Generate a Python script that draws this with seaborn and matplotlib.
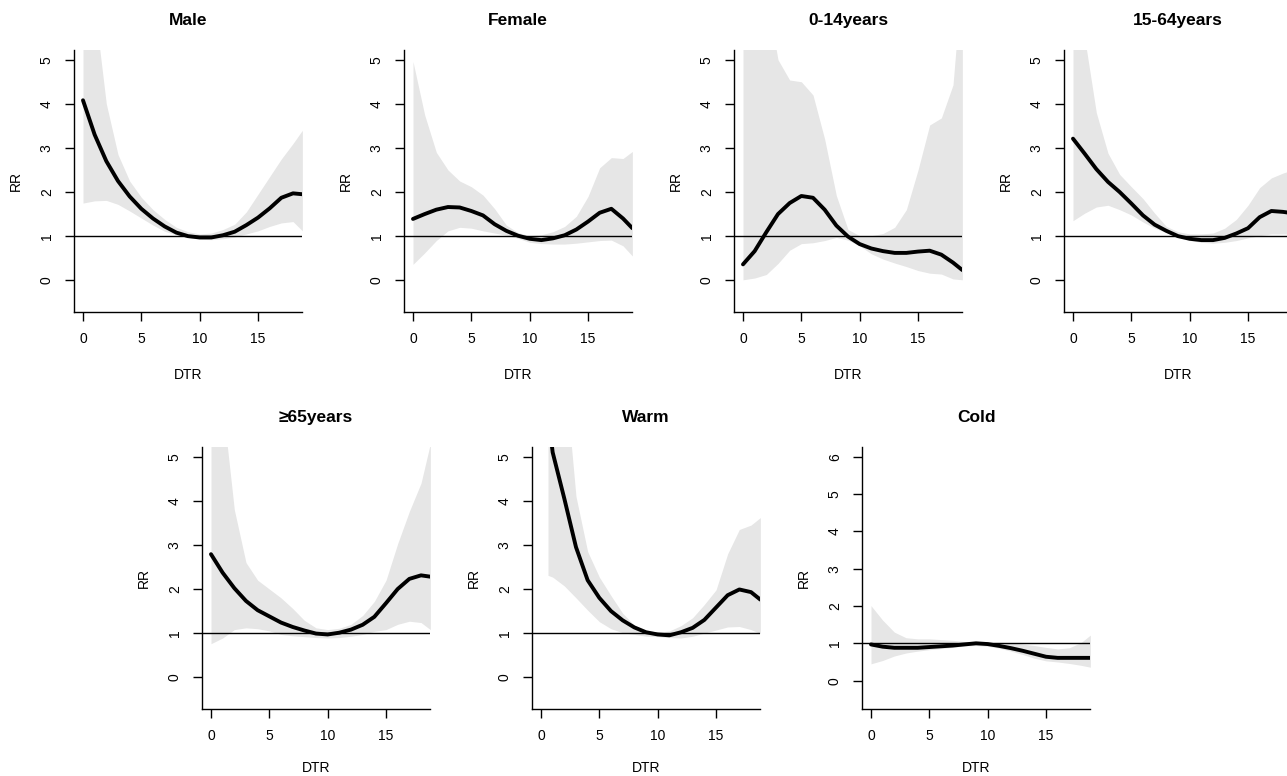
import matplotlib

matplotlib.use("Agg")

import matplotlib.pyplot as plt
import seaborn as sns

# exposure-response values (RR with 95% CI)
DTR = [0, 1, 2, 3, 4, 5, 6, 7, 8, 9, 10, 11, 12, 13, 14, 15, 16, 17, 18, 18.8]
WARM_DTR = [0.6, 1, 2, 3, 4, 5, 6, 7, 8, 9, 10, 11, 12, 13, 14, 15, 16, 17, 18, 18.8]

MALE_RR = [4.08, 3.3, 2.7, 2.25, 1.9, 1.62, 1.4, 1.22, 1.08, 1.0, 0.97, 0.97, 1.02, 1.1, 1.25, 1.42, 1.63, 1.87, 1.97, 1.95]
MALE_LO = [1.75, 1.8, 1.81, 1.72, 1.57, 1.41, 1.25, 1.11, 1.03, 0.97, 0.93, 0.92, 0.94, 0.98, 1.05, 1.12, 1.22, 1.3, 1.33, 1.12]
MALE_HI = [8.0, 6.2, 4.0, 2.85, 2.25, 1.88, 1.6, 1.38, 1.2, 1.1, 1.05, 1.07, 1.15, 1.27, 1.55, 1.95, 2.35, 2.75, 3.1, 3.4]

FEMALE_RR = [1.39, 1.5, 1.6, 1.66, 1.65, 1.57, 1.47, 1.27, 1.12, 1.01, 0.94, 0.91, 0.95, 1.02, 1.15, 1.33, 1.53, 1.62, 1.4, 1.18]
FEMALE_LO = [0.36, 0.62, 0.9, 1.12, 1.2, 1.18, 1.12, 1.07, 1.02, 0.95, 0.86, 0.83, 0.82, 0.82, 0.84, 0.87, 0.9, 0.91, 0.78, 0.55]
FEMALE_HI = [4.96, 3.75, 2.9, 2.5, 2.25, 2.12, 1.93, 1.62, 1.25, 1.08, 1.01, 1.03, 1.1, 1.22, 1.45, 1.9, 2.55, 2.78, 2.76, 2.92]

CHILD_RR = [0.36, 0.66, 1.09, 1.5, 1.75, 1.91, 1.87, 1.6, 1.24, 0.99, 0.82, 0.72, 0.66, 0.62, 0.62, 0.65, 0.67, 0.58, 0.4, 0.23]
CHILD_LO = [0.01, 0.05, 0.13, 0.38, 0.68, 0.83, 0.85, 0.9, 0.97, 0.91, 0.78, 0.6, 0.48, 0.39, 0.31, 0.22, 0.16, 0.14, 0.03, 0.01]
CHILD_HI = [9.0, 8.0, 6.5, 5.0, 4.54, 4.5, 4.2, 3.2, 1.92, 1.15, 1.01, 1.01, 1.06, 1.2, 1.6, 2.5, 3.52, 3.68, 4.43, 7.0]

ADULT_RR = [3.21, 2.87, 2.52, 2.23, 2.0, 1.74, 1.47, 1.26, 1.12, 1.0, 0.94, 0.91, 0.91, 0.96, 1.06, 1.18, 1.43, 1.57, 1.55, 1.52]
ADULT_LO = [1.35, 1.52, 1.66, 1.7, 1.6, 1.48, 1.32, 1.18, 1.08, 0.98, 0.9, 0.86, 0.84, 0.86, 0.9, 0.96, 1.01, 1.05, 1.05, 1.05]
ADULT_HI = [7.0, 5.5, 3.8, 2.88, 2.4, 2.12, 1.85, 1.52, 1.22, 1.1, 1.05, 1.05, 1.07, 1.18, 1.38, 1.7, 2.1, 2.32, 2.43, 2.5]

ELDER_RR = [2.79, 2.37, 2.02, 1.73, 1.52, 1.38, 1.24, 1.14, 1.06, 0.99, 0.97, 1.01, 1.08, 1.19, 1.37, 1.68, 2.0, 2.23, 2.31, 2.28]
ELDER_LO = [0.76, 0.89, 1.08, 1.12, 1.1, 1.05, 0.97, 0.94, 0.92, 0.9, 0.89, 0.9, 0.93, 0.97, 1.04, 1.08, 1.2, 1.27, 1.24, 1.08]
ELDER_HI = [8.0, 6.2, 3.8, 2.6, 2.2, 2.0, 1.8, 1.56, 1.29, 1.12, 1.08, 1.11, 1.2, 1.4, 1.72, 2.2, 3.03, 3.76, 4.4, 5.3]

WARM_RR = [6.0, 5.1, 4.05, 2.95, 2.2, 1.8, 1.5, 1.29, 1.13, 1.02, 0.97, 0.95, 1.02, 1.12, 1.3, 1.58, 1.86, 1.99, 1.93, 1.76]
WARM_LO = [2.31, 2.27, 2.07, 1.8, 1.52, 1.26, 1.1, 1.01, 0.97, 0.93, 0.92, 0.9, 0.89, 0.93, 1.0, 1.07, 1.14, 1.15, 1.08, 0.99]
WARM_HI = [10.0, 9.0, 7.0, 4.1, 2.85, 2.27, 1.85, 1.45, 1.18, 1.06, 1.02, 1.05, 1.17, 1.35, 1.65, 1.98, 2.8, 3.35, 3.45, 3.62]

COLD_RR = [0.97, 0.91, 0.88, 0.88, 0.88, 0.9, 0.92, 0.94, 0.97, 1.0, 0.98, 0.93, 0.87, 0.8, 0.72, 0.64, 0.61, 0.61, 0.61, 0.61]
COLD_LO = [0.45, 0.54, 0.66, 0.74, 0.79, 0.83, 0.86, 0.89, 0.93, 0.94, 0.92, 0.87, 0.79, 0.7, 0.6, 0.53, 0.5, 0.46, 0.41, 0.36]
COLD_HI = [2.01, 1.62, 1.3, 1.15, 1.12, 1.12, 1.1, 1.08, 1.05, 1.03, 1.03, 1.03, 1.01, 0.98, 0.94, 0.89, 0.85, 0.88, 1.02, 1.22]

W, H = 1287, 776


def setup_style() -> None:
    sns.set_theme(style="white")
    plt.rcParams["font.family"] = ["Liberation Sans", "DejaVu Sans"]
    plt.rcParams["axes.linewidth"] = 1.0
    plt.rcParams["axes.edgecolor"] = "black"
    plt.rcParams["text.color"] = "black"
    plt.rcParams["axes.labelcolor"] = "black"
    plt.rcParams["axes.titlecolor"] = "black"


def draw_panel(fig, left_px, top_px, title, x, rr, lo, hi, ymax=5, xpad=16):
    ax = fig.add_axes([left_px / W, 1 - (top_px + 262) / H, 228 / W, 262 / H])
    ax.fill_between(x, lo, hi, color="#e6e6e6", linewidth=0)
    sns.lineplot(x=x, y=rr, ax=ax, color="black", linewidth=2.8)
    ax.axhline(1, color="black", linewidth=1.0)
    pad = (ymax + 0.5) * 0.04
    ax.set_ylim(-0.5 - pad, ymax + pad)
    ax.set_xlim(-0.77, 18.77)
    ax.set_xticks([0, 5, 10, 15])
    ax.set_yticks(list(range(0, ymax + 1)))
    ax.spines["top"].set_visible(False)
    ax.spines["right"].set_visible(False)
    ax.tick_params(axis="both", direction="out", length=6.5, width=1.0,
                   colors="black", labelsize=10, pad=8, left=True, bottom=True)
    ax.tick_params(axis="y", labelrotation=90)
    for lab in ax.get_yticklabels():
        lab.set_va("center")
    ax.set_xlabel("DTR", fontsize=10, labelpad=xpad)
    ax.set_ylabel("RR", fontsize=10, labelpad=12)
    ax.set_title(title, fontsize=12.5, fontweight="bold", pad=18)
    return ax


def main() -> int:
    setup_style()
    fig = plt.figure(figsize=(W / 100, H / 100), dpi=100)
    fig.patch.set_facecolor("white")

    draw_panel(fig, 74, 50, "Male", DTR, MALE_RR, MALE_LO, MALE_HI)
    draw_panel(fig, 404, 50, "Female", DTR, FEMALE_RR, FEMALE_LO, FEMALE_HI)
    draw_panel(fig, 734, 50, "0-14years", DTR, CHILD_RR, CHILD_LO, CHILD_HI)
    draw_panel(fig, 1064, 50, "15-64years", DTR, ADULT_RR, ADULT_LO, ADULT_HI)
    draw_panel(fig, 202, 447, "≥65years", DTR, ELDER_RR, ELDER_LO, ELDER_HI, xpad=13)
    draw_panel(fig, 532, 447, "Warm", WARM_DTR, WARM_RR, WARM_LO, WARM_HI, xpad=13)
    draw_panel(fig, 862, 447, "Cold", DTR, COLD_RR, COLD_LO, COLD_HI, ymax=6, xpad=13)

    fig.savefig("out.png", dpi=100)
    plt.close(fig)
    return 0


if __name__ == "__main__":
    raise SystemExit(main())
